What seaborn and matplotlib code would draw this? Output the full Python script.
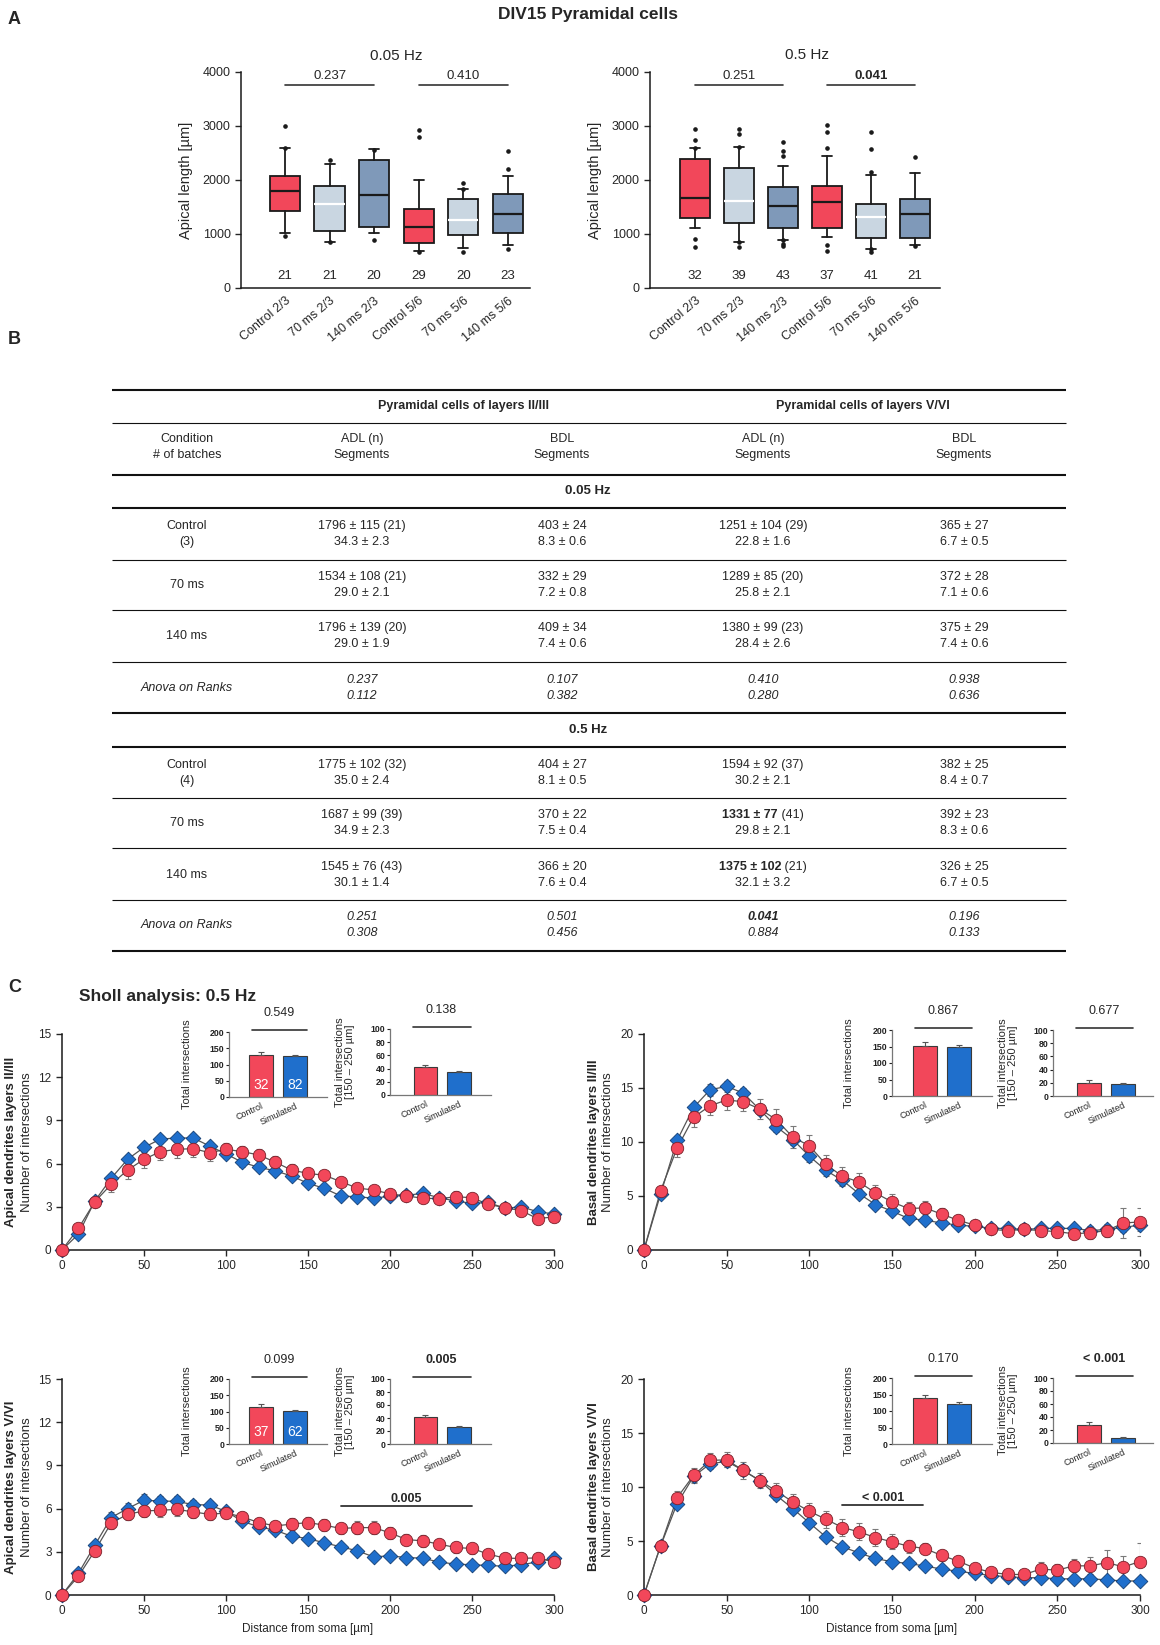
import seaborn as sns
import matplotlib.pyplot as plt

sns.set_style("ticks")
plt.rcParams["font.family"] = ["Liberation Sans", "DejaVu Sans"]

W, H = 1160, 1645

# ---------------- panel A: apical length (µm) ----------------
box_labels = ["Control 2/3", "70 ms 2/3", "140 ms 2/3", "Control 5/6", "70 ms 5/6", "140 ms 5/6"]

hz005_whislo = [1010, 854, 1022, 687, 743, 800]
hz005_q1 = [1424, 1053, 1127, 842, 978, 1022]
hz005_med = [1796, 1560, 1715, 1133, 1251, 1375]
hz005_q3 = [2080, 1888, 2365, 1455, 1641, 1746]
hz005_whishi = [2588, 2297, 2576, 2000, 1827, 2080]
hz005_fliers = [[3000, 2600, 960], [2370, 850], [2560, 885], [2930, 2790, 670],
                [1940, 1840, 670], [2200, 2530, 720]]
hz005_n = [21, 21, 20, 29, 20, 23]
hz005_p = [("0.237", False), ("0.410", False)]

hz05_whislo = [1102, 854, 898, 941, 731, 800]
hz05_q1 = [1288, 1201, 1102, 1115, 929, 930]
hz05_med = [1659, 1610, 1511, 1591, 1313, 1370]
hz05_q3 = [2384, 2229, 1876, 1882, 1554, 1650]
hz05_whishi = [2600, 2619, 2254, 2446, 2086, 2130]
hz05_fliers = [[2950, 2740, 2600, 900, 750], [2940, 2860, 2620, 850, 760],
               [2700, 2530, 2450, 880, 810, 770], [3020, 2890, 2590, 790, 680],
               [2880, 2570, 2140, 720, 670], [2420, 780]]
hz05_n = [32, 39, 43, 37, 41, 21]
hz05_p = [("0.251", False), ("0.041", True)]

box_colors = ["#F2475A", "#C9D6E1", "#7F99B9"] * 2
median_colors = ["#1a1a1a", "#ffffff", "#1a1a1a"] * 2

# ---------------- panel B: table ----------------
tab_cond = ["Control\n(3)", "70 ms", "140 ms", "Anova on Ranks",
            "Control\n(4)", "70 ms", "140 ms", "Anova on Ranks"]
tab_adl_23 = ["1796 ± 115 (21)\n34.3 ± 2.3", "1534 ± 108 (21)\n29.0 ± 2.1",
              "1796 ± 139 (20)\n29.0 ± 1.9", "0.237\n0.112",
              "1775 ± 102 (32)\n35.0 ± 2.4", "1687 ± 99 (39)\n34.9 ± 2.3",
              "1545 ± 76 (43)\n30.1 ± 1.4", "0.251\n0.308"]
tab_bdl_23 = ["403 ± 24\n8.3 ± 0.6", "332 ± 29\n7.2 ± 0.8", "409 ± 34\n7.4 ± 0.6",
              "0.107\n0.382", "404 ± 27\n8.1 ± 0.5", "370 ± 22\n7.5 ± 0.4",
              "366 ± 20\n7.6 ± 0.4", "0.501\n0.456"]
tab_adl_56 = ["1251 ± 104 (29)\n22.8 ± 1.6", "1289 ± 85 (20)\n25.8 ± 2.1",
              "1380 ± 99 (23)\n28.4 ± 2.6", "0.410\n0.280",
              "1594 ± 92 (37)\n30.2 ± 2.1", "1331 ± 77 (41)\n29.8 ± 2.1",
              "1375 ± 102 (21)\n32.1 ± 3.2", "0.041\n0.884"]
tab_bdl_56 = ["365 ± 27\n6.7 ± 0.5", "372 ± 28\n7.1 ± 0.6", "375 ± 29\n7.4 ± 0.6",
              "0.938\n0.636", "382 ± 25\n8.4 ± 0.7", "392 ± 23\n8.3 ± 0.6",
              "326 ± 25\n6.7 ± 0.5", "0.196\n0.133"]
tab_bold = {(5, 3): "1331 ± 77", (6, 3): "1375 ± 102", (7, 3): "0.041"}
tab_header = ["Condition\n# of batches", "ADL (n)\nSegments", "BDL\nSegments",
              "ADL (n)\nSegments", "BDL\nSegments"]

# ---------------- panel C: Sholl analysis ----------------
distance = [0, 10, 20, 30, 40, 50, 60, 70, 80, 90, 100, 110, 120, 130, 140, 150,
            160, 170, 180, 190, 200, 210, 220, 230, 240, 250, 260, 270, 280, 290, 300]

ap23_ctrl = [0, 1.5, 3.35, 4.56, 5.55, 6.3, 6.83, 6.99, 7.04, 6.76, 6.99, 6.83, 6.6, 6.1, 5.55,
             5.32, 5.19, 4.75, 4.3, 4.17, 3.9, 3.75, 3.6, 3.56, 3.7, 3.63, 3.17, 2.94, 2.73, 2.18, 2.3]
ap23_ctrl_sem = [0, 0.3, 0.35, 0.5, 0.6, 0.6, 0.6, 0.6, 0.6, 0.55, 0.45, 0.4, 0.4, 0.4, 0.4,
                 0.35, 0.3, 0.3, 0.3, 0.3, 0.3, 0.3, 0.3, 0.3, 0.4, 0.35, 0.3, 0.3, 0.3, 0.3, 0.3]
ap23_sim = [0, 1.1, 3.4, 4.98, 6.3, 7.13, 7.7, 7.78, 7.78, 7.22, 6.67, 6.09, 5.74, 5.5, 5.14,
            4.63, 4.28, 3.75, 3.7, 3.6, 3.73, 3.8, 3.93, 3.63, 3.4, 3.24, 3.3, 2.9, 3.0, 2.66, 2.5]
ap23_sim_sem = [0, 0.2, 0.25, 0.3, 0.3, 0.3, 0.3, 0.3, 0.3, 0.3, 0.3, 0.3, 0.25, 0.25, 0.25,
                0.25, 0.25, 0.25, 0.25, 0.2, 0.2, 0.2, 0.2, 0.2, 0.2, 0.2, 0.2, 0.2, 0.2, 0.2, 0.2]

ba23_ctrl = [0, 5.47, 9.43, 12.29, 13.36, 13.89, 13.73, 13.06, 12.07, 10.45, 9.65, 7.93, 6.82,
             6.3, 5.28, 4.45, 3.84, 3.9, 3.32, 2.76, 2.3, 1.9, 1.8, 1.9, 1.8, 1.7, 1.5, 1.6, 1.8, 2.5, 2.6]
ba23_ctrl_sem = [0, 0.3, 0.8, 0.9, 0.9, 0.9, 0.9, 0.9, 1.0, 1.0, 1.0, 0.9, 0.85, 0.8, 0.75,
                 0.7, 0.6, 0.6, 0.55, 0.5, 0.4, 0.4, 0.35, 0.4, 0.4, 0.4, 0.5, 0.6, 0.6, 1.4, 1.3]
ba23_sim = [0, 5.16, 10.14, 13.2, 14.84, 15.15, 14.53, 13.0, 11.43, 10.23, 8.69, 7.37, 6.45,
            5.22, 4.21, 3.6, 2.92, 2.76, 2.5, 2.3, 2.2, 2.0, 2.0, 1.9, 2.0, 2.0, 2.0, 1.8, 1.9, 2.1, 2.3]
ba23_sim_sem = [0, 0.2, 0.4, 0.45, 0.5, 0.5, 0.5, 0.5, 0.5, 0.5, 0.5, 0.5, 0.45, 0.4, 0.4,
                0.35, 0.35, 0.3, 0.3, 0.3, 0.3, 0.3, 0.3, 0.3, 0.3, 0.3, 0.3, 0.3, 0.3, 0.4, 0.5]

ap56_ctrl = [0, 1.3, 3.07, 5.0, 5.6, 5.84, 5.88, 5.95, 5.77, 5.6, 5.7, 5.42, 5.03, 4.8, 4.92,
             5.03, 4.85, 4.62, 4.68, 4.68, 4.32, 3.85, 3.76, 3.53, 3.3, 3.23, 2.84, 2.56, 2.54, 2.58, 2.28]
ap56_ctrl_sem = [0, 0.2, 0.3, 0.4, 0.4, 0.45, 0.45, 0.45, 0.45, 0.4, 0.35, 0.35, 0.35, 0.35, 0.4,
                 0.4, 0.4, 0.4, 0.45, 0.45, 0.4, 0.4, 0.4, 0.35, 0.35, 0.35, 0.3, 0.3, 0.3, 0.3, 0.3]
ap56_sim = [0, 1.5, 3.46, 5.38, 6.0, 6.58, 6.53, 6.5, 6.28, 6.25, 5.81, 5.12, 4.73, 4.5, 4.08,
            3.92, 3.62, 3.35, 3.07, 2.65, 2.72, 2.6, 2.56, 2.28, 2.15, 2.1, 2.05, 2.0, 2.1, 2.3, 2.6]
ap56_sim_sem = [0, 0.2, 0.3, 0.35, 0.4, 0.4, 0.35, 0.35, 0.3, 0.3, 0.3, 0.25, 0.25, 0.25, 0.2,
                0.2, 0.2, 0.2, 0.2, 0.2, 0.2, 0.2, 0.2, 0.2, 0.2, 0.2, 0.2, 0.2, 0.2, 0.25, 0.3]

ba56_ctrl = [0, 4.55, 9.0, 11.08, 12.46, 12.52, 11.54, 10.6, 9.63, 8.62, 7.75, 7.02, 6.25, 5.85,
             5.32, 4.92, 4.52, 4.3, 3.66, 3.14, 2.5, 2.1, 1.9, 1.9, 2.4, 2.3, 2.7, 2.7, 3.0, 2.6, 3.1]
ba56_ctrl_sem = [0, 0.3, 0.6, 0.7, 0.7, 0.7, 0.8, 0.7, 0.7, 0.7, 0.75, 0.8, 0.8, 0.8, 0.75,
                 0.7, 0.6, 0.5, 0.5, 0.4, 0.4, 0.4, 0.4, 0.4, 0.7, 0.6, 0.6, 0.8, 1.2, 1.0, 1.7]
ba56_sim = [0, 4.52, 8.46, 10.98, 12.15, 12.37, 11.54, 10.6, 9.23, 8.0, 6.68, 5.38, 4.46, 3.9,
            3.38, 3.08, 2.92, 2.68, 2.4, 2.2, 2.0, 1.8, 1.7, 1.6, 1.6, 1.5, 1.5, 1.5, 1.4, 1.3, 1.3]
ba56_sim_sem = [0, 0.2, 0.4, 0.5, 0.5, 0.5, 0.5, 0.45, 0.45, 0.45, 0.4, 0.4, 0.3, 0.3, 0.3,
                0.25, 0.25, 0.25, 0.2, 0.2, 0.2, 0.2, 0.2, 0.2, 0.2, 0.2, 0.2, 0.2, 0.2, 0.2, 0.3]

# inset bars: total intersections and intersections 150-250 µm
groups = ["Control", "Simulated"]
ap23_total, ap23_total_err = [130, 125], [8, 4]
ap23_range, ap23_range_err = [42, 35], [4, 2]
ba23_total, ba23_total_err = [153, 149], [11, 5]
ba23_range, ba23_range_err = [20, 18], [5, 2]
ap56_total, ap56_total_err = [115, 102], [7, 3]
ap56_range, ap56_range_err = [41, 26], [4, 2]
ba56_total, ba56_total_err = [140, 122], [10, 5]
ba56_range, ba56_range_err = [27, 8], [5, 1]
ap23_cells = [32, 82]
ap56_cells = [37, 62]

red = "#F2475A"
blue = "#1F6FCC"

fig = plt.figure(figsize=(W / 100, H / 100), dpi=100)


def place(l, t, r, b):
    return fig.add_axes([l / W, 1 - b / H, (r - l) / W, (b - t) / H])


ov = place(0, 0, W, H)
ov.set_xlim(0, W)
ov.set_ylim(H, 0)
ov.axis("off")
renderer = fig.canvas.get_renderer()

# ---------- panel A ----------
ov.text(588, 15, "DIV15 Pyramidal cells", ha="center", va="center", fontsize=12.5, fontweight="bold")
ov.text(8, 19, "A", ha="left", va="center", fontsize=13, fontweight="bold")


def box_panel(ax, whislo, q1, med, q3, whishi, fliers, ns, pvals):
    stats = []
    for lo, a, m, b, hi, fl in zip(whislo, q1, med, q3, whishi, fliers):
        stats.append(dict(whislo=lo, q1=a, med=m, q3=b, whishi=hi, fliers=fl))
    bp = ax.bxp(stats, positions=list(range(6)), widths=0.68, patch_artist=True, capwidths=0.22,
                boxprops=dict(linewidth=1.3, edgecolor="#1a1a1a"),
                whiskerprops=dict(linewidth=1.3, color="#1a1a1a"),
                capprops=dict(linewidth=1.3, color="#1a1a1a"),
                medianprops=dict(linewidth=1.6),
                flierprops=dict(marker="o", markersize=2.3, markerfacecolor="#1a1a1a",
                                markeredgecolor="#1a1a1a"))
    for patch, c in zip(bp["boxes"], box_colors):
        patch.set_facecolor(c)
    for line, c in zip(bp["medians"], median_colors):
        line.set_color(c)
    for i, n in enumerate(ns):
        ax.text(i, 230, str(n), ha="center", va="center", fontsize=9.5)
    for (a, b), (p, bold) in zip([(0, 2), (3, 5)], pvals):
        ax.plot([a, b], [3750, 3750], color="#333333", lw=1.2, clip_on=False)
        ax.text((a + b) / 2, 3930, p, ha="center", va="center", fontsize=9.5,
                fontweight="bold" if bold else "normal")
    ax.set_ylim(0, 4000)
    ax.set_yticks([0, 1000, 2000, 3000, 4000])
    ax.set_xticks(range(6))
    ax.set_xticklabels(box_labels, rotation=40, ha="right", rotation_mode="anchor", fontsize=9)
    ax.tick_params(axis="x", length=0, pad=5)
    ax.tick_params(axis="y", labelsize=9, length=4, width=1)
    ax.set_ylabel("Apical length [µm]", fontsize=10.5, labelpad=7)
    sns.despine(ax=ax)
    for s in ("left", "bottom"):
        ax.spines[s].set_color("#1a1a1a")
        ax.spines[s].set_linewidth(1.1)


axA1 = place(241, 72, 530, 288)
box_panel(axA1, hz005_whislo, hz005_q1, hz005_med, hz005_q3, hz005_whishi, hz005_fliers, hz005_n, hz005_p)
axA1.set_xlim(-0.99, 5.5)
ov.text(396, 56, "0.05 Hz", ha="center", va="center", fontsize=11)

axA2 = place(650, 72, 940, 288)
box_panel(axA2, hz05_whislo, hz05_q1, hz05_med, hz05_q3, hz05_whishi, hz05_fliers, hz05_n, hz05_p)
axA2.set_xlim(-1.02, 5.57)
ov.text(807, 55, "0.5 Hz", ha="center", va="center", fontsize=11)

# ---------- panel B: table ----------
ov.text(8, 339, "B", ha="left", va="center", fontsize=13, fontweight="bold")
tab_x = [187, 362, 562, 763, 964]
row_y = [534, 585, 636, 688, 773, 823, 875, 925]
rules = [(390, 1.5), (423, 0.8), (475, 1.5), (508, 1.5), (560, 0.8), (610, 0.8), (662, 0.8),
         (713, 1.5), (747, 1.5), (798, 0.8), (848, 0.8), (900, 0.8), (951, 1.5)]
for y, lw in rules:
    ov.plot([112, 1066], [y, y], color="#111111", lw=lw, solid_capstyle="butt")

FS = 9
ov.text(463, 406, "Pyramidal cells of layers II/III", ha="center", va="center", fontsize=FS, fontweight="bold")
ov.text(863, 406, "Pyramidal cells of layers V/VI", ha="center", va="center", fontsize=FS, fontweight="bold")
for x, txt in zip(tab_x, tab_header):
    a, b = txt.split("\n")
    ov.text(x, 439, a, ha="center", va="center", fontsize=FS)
    ov.text(x, 455, b, ha="center", va="center", fontsize=FS)
ov.text(588, 491, "0.05 Hz", ha="center", va="center", fontsize=9.5, fontweight="bold")
ov.text(588, 730, "0.5 Hz", ha="center", va="center", fontsize=9.5, fontweight="bold")


def cell(x, y, text, style="normal", bold_prefix=None):
    lines = text.split("\n")
    offs = [0] if len(lines) == 1 else [-8.4, 8.4]
    for k, (line, dy) in enumerate(zip(lines, offs)):
        if k == 0 and bold_prefix:
            rest = line[len(bold_prefix):]
            t1 = ov.text(0, y + dy, bold_prefix, ha="left", va="center", fontsize=FS,
                         fontweight="bold", style=style)
            t2 = ov.text(0, y + dy, rest, ha="left", va="center", fontsize=FS, style=style)
            w1 = t1.get_window_extent(renderer).width
            w2 = t2.get_window_extent(renderer).width if rest else 0
            x0 = x - (w1 + w2) / 2
            t1.set_x(x0)
            t2.set_x(x0 + w1)
        else:
            ov.text(x, y + dy, line, ha="center", va="center", fontsize=FS, style=style)


columns = [tab_cond, tab_adl_23, tab_bdl_23, tab_adl_56, tab_bdl_56]
for r, y in enumerate(row_y):
    anova = tab_cond[r].startswith("Anova")
    for c, col in enumerate(columns):
        st = "italic" if anova else "normal"
        cell(tab_x[c], y, col[r], style=st, bold_prefix=tab_bold.get((r, c)))

# ---------- panel C ----------
ov.text(8, 987, "C", ha="left", va="center", fontsize=13, fontweight="bold")
ov.text(79, 996, "Sholl analysis: 0.5 Hz", ha="left", va="center", fontsize=12.5, fontweight="bold")


def sholl_panel(ax, ctrl, ctrl_sem, sim, sim_sem, ymax, ystep, layer_label, xlabel, dx):
    for y, e in ((sim, sim_sem), (ctrl, ctrl_sem)):
        ax.errorbar(distance, y, yerr=e, fmt="none", ecolor="#7a7a7a", elinewidth=0.8,
                    capsize=2.5, capthick=0.8, zorder=2)
    sns.lineplot(x=distance, y=sim, ax=ax, color="#555555", linewidth=0.9, zorder=3)
    sns.lineplot(x=distance, y=ctrl, ax=ax, color="#555555", linewidth=0.9, zorder=3)
    sns.scatterplot(x=distance, y=sim, ax=ax, marker="D", s=56, color=blue, edgecolor="#123d73",
                    linewidth=0.6, zorder=4, clip_on=False)
    sns.scatterplot(x=distance, y=ctrl, ax=ax, marker="o", s=80, color=red, edgecolor="#7a1f29",
                    linewidth=0.6, zorder=5, clip_on=False)
    ax.set_xlim(0, 300)
    ax.set_ylim(0, ymax)
    ax.set_xticks(range(0, 301, 50))
    ax.set_yticks(range(0, ymax + 1, ystep))
    ax.tick_params(labelsize=8.5, length=4, width=1)
    ax.set_ylabel("")
    sns.despine(ax=ax)
    for s in ("left", "bottom"):
        ax.spines[s].set_color("#1a1a1a")
        ax.spines[s].set_linewidth(1.1)
    ax.text(-dx[0], 0.5, layer_label, transform=ax.transAxes, rotation=90, ha="center",
            va="center", fontsize=9.5, fontweight="bold")
    ax.text(-dx[1], 0.5, "Number of intersections", transform=ax.transAxes, rotation=90,
            ha="center", va="center", fontsize=9.5)
    if xlabel:
        ax.set_xlabel("Distance from soma [µm]", fontsize=8.5, labelpad=4)


def inset_panel(ax, vals, errs, ymax, ystep, ylabel, pval, bold, cells, xlim, lab_x):
    sns.barplot(x=groups, y=vals, hue=groups, palette=[red, blue], saturation=1, width=0.7,
                edgecolor="#3a3a3a", linewidth=0.8, legend=False, ax=ax)
    ax.errorbar([0, 1], vals, yerr=[[0, 0], errs], fmt="none", ecolor="#555555", elinewidth=0.8,
                capsize=2.2, capthick=0.8)
    ax.set_xlim(*xlim)
    ax.set_ylim(0, ymax)
    ax.set_yticks(range(0, ymax + 1, ystep))
    ax.set_xticks([0, 1])
    ax.set_xticklabels(groups, rotation=25, ha="right", rotation_mode="anchor", fontsize=6.5)
    ax.tick_params(axis="x", length=0, pad=3)
    ax.tick_params(axis="y", length=2, width=0.8, pad=1.5, labelsize=6.3, colors="#222222")
    for t in ax.get_yticklabels():
        t.set_fontweight("bold")
    ax.set_ylabel(ylabel, fontsize=8, linespacing=1.0)
    ax.yaxis.set_label_coords(lab_x, 0.5)
    ax.set_xlabel("")
    sns.despine(ax=ax)
    for s in ("left", "bottom"):
        ax.spines[s].set_color("#777777")
        ax.spines[s].set_linewidth(0.9)
    ax.plot([0.23, 0.8], [1.03, 1.03], transform=ax.transAxes, color="#333333", lw=1.2, clip_on=False)
    ax.text(0.51, 1.29, pval, transform=ax.transAxes, ha="center", va="center", fontsize=9,
            fontweight="bold" if bold else "normal")
    if cells:
        for i, n in enumerate(cells):
            ax.text(i, ymax * 0.19, str(n), color="white", ha="center", va="center", fontsize=10)


lab1 = "Total intersections"
lab2 = "Total intersections\n[150 – 250 µm]"

# top left: apical II/III
ax = place(62, 1034, 554, 1250)
sholl_panel(ax, ap23_ctrl, ap23_ctrl_sem, ap23_sim, ap23_sim_sem, 15, 3,
            "Apical dendrites layers II/III", False, (0.104, 0.071))
inset_panel(place(229, 1032, 327, 1097), ap23_total, ap23_total_err, 200, 50, lab1, "0.549", False,
            ap23_cells, (-0.95, 1.95), -0.38)
inset_panel(place(390, 1029, 491, 1095), ap23_range, ap23_range_err, 100, 20, lab2, "0.138", False,
            None, (-1.05, 1.95), -0.35)

# top right: basal II/III
ax = place(644, 1034, 1140, 1250)
sholl_panel(ax, ba23_ctrl, ba23_ctrl_sem, ba23_sim, ba23_sim_sem, 20, 5,
            "Basal dendrites layers II/III", False, (0.101, 0.073))
inset_panel(place(892, 1030, 992, 1096), ba23_total, ba23_total_err, 200, 50, lab1, "0.867", False,
            None, (-0.97, 1.95), -0.38)
inset_panel(place(1053, 1030, 1153, 1096), ba23_range, ba23_range_err, 100, 20, lab2, "0.677", False,
            None, (-1.08, 1.9), -0.35)

# bottom left: apical V/VI
ax = place(62, 1379, 554, 1595)
sholl_panel(ax, ap56_ctrl, ap56_ctrl_sem, ap56_sim, ap56_sim_sem, 15, 3,
            "Apical dendrites layers V/VI", True, (0.104, 0.071))
ax.plot([170, 250], [6.2, 6.2], color="#333333", lw=1.3)
ax.text(210, 6.65, "0.005", ha="center", va="center", fontsize=9, fontweight="bold")
inset_panel(place(229, 1379, 327, 1444), ap56_total, ap56_total_err, 200, 50, lab1, "0.099", False,
            ap56_cells, (-0.95, 1.95), -0.38)
inset_panel(place(390, 1379, 491, 1444), ap56_range, ap56_range_err, 100, 20, lab2, "0.005", True,
            None, (-1.05, 1.95), -0.35)

# bottom right: basal V/VI
ax = place(644, 1379, 1140, 1595)
sholl_panel(ax, ba56_ctrl, ba56_ctrl_sem, ba56_sim, ba56_sim_sem, 20, 5,
            "Basal dendrites layers V/VI", True, (0.101, 0.073))
ax.plot([120, 169], [8.3, 8.3], color="#333333", lw=1.3)
ax.text(144.5, 8.98, "< 0.001", ha="center", va="center", fontsize=9, fontweight="bold")
inset_panel(place(892, 1378, 992, 1444), ba56_total, ba56_total_err, 200, 50, lab1, "0.170", False,
            None, (-0.97, 1.95), -0.38)
inset_panel(place(1053, 1378, 1153, 1443), ba56_range, ba56_range_err, 100, 20, lab2, "< 0.001", True,
            None, (-1.08, 1.9), -0.35)

fig.savefig("out.png", dpi=100)
